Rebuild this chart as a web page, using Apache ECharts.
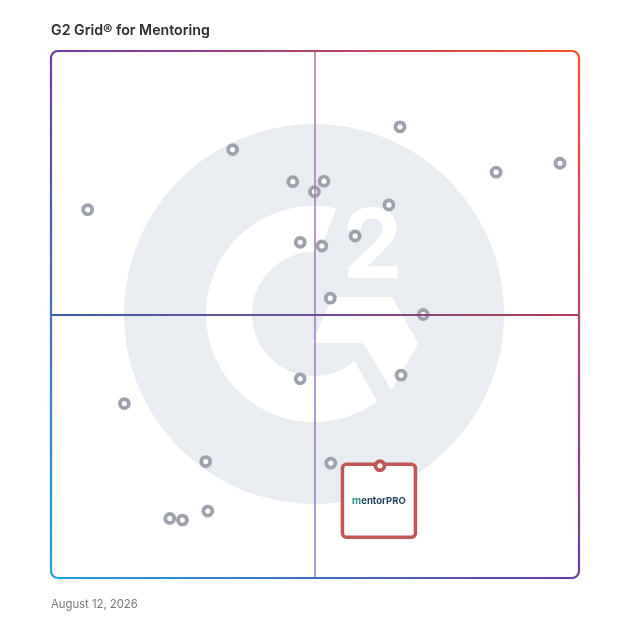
<!DOCTYPE html>
<html><head><meta charset="utf-8">
<script src="https://cdn.jsdelivr.net/npm/echarts@6/dist/echarts.min.js"></script>
<style>html,body{margin:0;padding:0;background:#fff}#c{width:628px;height:628px}</style>
</head><body><div id="c"></div>
<script>
// Satisfaction (x) and Market Presence (y), 0-100 scale
const satisfaction   = [6.95, 34.4, 45.8, 49.9, 51.7, 66.1, 84.3, 96.4, 64.0, 47.2, 51.3, 57.6, 52.9, 70.5, 47.2, 66.3, 13.9, 29.3, 53.0, 22.5, 24.9, 29.7];
const marketPresence = [69.9, 81.3, 75.2, 73.3, 75.3, 85.6, 77.0, 78.7, 70.8, 63.7, 63.0, 64.9, 53.1, 50.0, 37.8, 38.5, 33.1, 22.1, 21.8, 11.3, 11.0, 12.7];
const highlightName = ['mentorPRO'];
const highlightSatisfaction = [62.3];
const highlightPresence = [21.3];
const quadrantSplit = [50, 50];
const titleText = 'G2 Grid® for Mentoring';
const dateText = 'August 12, 2026';

const chart = echarts.init(document.getElementById('c'), null, {renderer: 'canvas'});

// --- decorative G2 watermark geometry ---
const cx = 314, cy = 314, R = 108, r0 = 62;
function arcPts(rad, a1, a2, n) {
  const pts = [];
  for (let i = 0; i <= n; i++) {
    const a = (a1 + (a2 - a1) * i / n) * Math.PI / 180;
    pts.push([cx + rad * Math.cos(a), cy + rad * Math.sin(a)]);
  }
  return pts;
}
const gPts = arcPts(R, -78.1, -305.8, 120).concat(arcPts(r0, -310.7, -85.3, 120));
const chevron = [[333, 297], [391.7, 297], [418.3, 343.3], [391.7, 390], [363.3, 343.3], [311.7, 343.3]];

const pts = satisfaction.map((v, i) => [v, marketPresence[i]]);
const hPts = highlightSatisfaction.map((v, i) => ({name: highlightName[i], value: [v, highlightPresence[i]]}));

// rounded square callout symbol (74 x 74 units, corner radius 4)
const boxPath = 'path://M4,0 L70,0 A4,4 0 0 1 74,4 L74,70 A4,4 0 0 1 70,74 L4,74 A4,4 0 0 1 0,70 L0,4 A4,4 0 0 1 4,0 Z';

chart.setOption({
  animation: false,
  title: [
    {text: titleText, left: 51, top: 23.5, padding: 0, textStyle: {fontFamily: 'Inter', fontSize: 14.2, fontWeight: 600, color: '#2b2b2b'}},
    {text: dateText, left: 51, top: 599.5, padding: 0, textStyle: {fontFamily: 'Inter', fontSize: 11.3, fontWeight: 'normal', color: '#777'}}
  ],
  grid: {left: 51, top: 51, width: 528, height: 527},
  xAxis: {type: 'value', min: 0, max: 100, show: false, splitLine: {show: false}},
  yAxis: {type: 'value', min: 0, max: 100, show: false, splitLine: {show: false}},
  graphic: [
    {type: 'circle', z: -10, silent: true, shape: {cx: cx, cy: cy, r: 190}, style: {fill: '#E9ECF0'}},
    {type: 'polygon', z: -9, silent: true, shape: {points: gPts}, style: {fill: '#ffffff'}},
    {type: 'polygon', z: -9, silent: true, shape: {points: chevron}, style: {fill: '#ffffff'}},
    {type: 'text', z: -9, silent: true, style: {x: 372.5, y: 249, text: '2', fill: '#ffffff', font: 'bold 96px Inter', textAlign: 'center', verticalAlign: 'middle'}},
    {type: 'rect', z: 50, silent: true, shape: {x: 51, y: 51, width: 528, height: 527, r: 7},
      style: {fill: 'none', lineWidth: 2.2, stroke: new echarts.graphic.LinearGradient(0, 1, 1, 0, [
        {offset: 0, color: '#1AA3DC'}, {offset: 0.5, color: '#6A3BAE'}, {offset: 1, color: '#FF4E28'}])}}
  ],
  series: [
    {
      type: 'scatter', z: 3, silent: true,
      data: pts, symbol: 'circle', symbolSize: 9,
      itemStyle: {color: '#ffffff', borderColor: '#9EA2AD', borderWidth: 3.8, opacity: 1},
      markLine: {
        silent: true, symbol: 'none', label: {show: false},
        data: [
          {xAxis: quadrantSplit[0], lineStyle: {width: 1.6, type: 'solid', color: new echarts.graphic.LinearGradient(0, 0, 0, 1, [
            {offset: 0, color: '#B57BAE'}, {offset: 1, color: '#8E86CA'}])}},
          {yAxis: quadrantSplit[1], lineStyle: {width: 2, type: 'solid', color: new echarts.graphic.LinearGradient(0, 0, 1, 0, [
            {offset: 0, color: '#3D5DB4'}, {offset: 0.5, color: '#6E4C97'}, {offset: 1, color: '#BC3A50'}])}}
        ]
      }
    },
    {
      type: 'scatter', z: 4, silent: true,
      data: hPts, symbol: boxPath, symbolSize: [73, 73], symbolKeepAspect: false, symbolOffset: [-1, 35],
      itemStyle: {color: '#ffffff', borderColor: '#C05656', borderWidth: 3.5, opacity: 1},
      label: {
        show: true, position: 'inside',
        formatter: '{a|m}{b|entorPRO}',
        rich: {
          a: {fontFamily: 'Inter', fontSize: 10, fontWeight: 700, color: '#2E8F86'},
          b: {fontFamily: 'Inter', fontSize: 9.5, fontWeight: 700, color: '#1F3F5C'}
        }
      }
    },
    {
      type: 'scatter', z: 5, silent: true,
      data: hPts, symbol: 'circle', symbolSize: 9,
      itemStyle: {color: '#ffffff', borderColor: '#C05656', borderWidth: 3.8, opacity: 1}
    }
  ]
});
</script>
</body></html>
